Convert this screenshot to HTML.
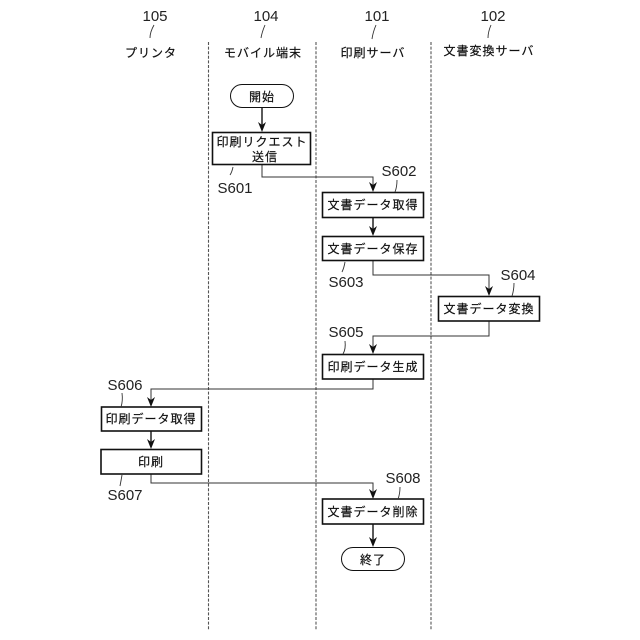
<!DOCTYPE html>
<html>
<head>
<meta charset="utf-8">
<style>
html,body{margin:0;padding:0;background:#fff;}
svg{display:block;}
text{font-family:"Liberation Sans","Noto Sans CJK JP",sans-serif;fill:#111;}
.j{font-size:12px;text-anchor:middle;letter-spacing:1px;stroke:#111;stroke-width:0.2px;}
.n{font-size:15px;text-anchor:middle;fill:#222;}
.box{fill:#fff;stroke:#111;stroke-width:1.6;}
.line{fill:none;stroke:#333;stroke-width:1;}
.vline{fill:none;stroke:#222;stroke-width:1.5;}
.dash{stroke:#555;stroke-width:1.1;stroke-dasharray:3 1.6;}
.lead{fill:none;stroke:#333;stroke-width:0.9;}
</style>
</head>
<body>
<svg width="640" height="640" viewBox="0 0 640 640" xmlns="http://www.w3.org/2000/svg">
<rect width="640" height="640" fill="#fff"/>

<line class="dash" x1="208.5" y1="42" x2="208.5" y2="630"/>
<line class="dash" x1="316" y1="42" x2="316" y2="630"/>
<line class="dash" x1="431" y1="42" x2="431" y2="630"/>

<text class="n" x="155" y="21">105</text>
<text class="n" x="266" y="21">104</text>
<text class="n" x="377" y="21">101</text>
<text class="n" x="493" y="21">102</text>
<path class="lead" d="M154 25 Q150 32 150 38"/>
<path class="lead" d="M265 25 Q262 32 261 38"/>
<path class="lead" d="M376 25 Q373 32 372 39"/>
<path class="lead" d="M491 25 Q488 32 488 38"/>

<text class="j" x="151" y="57">プリンタ</text>
<text class="j" x="263" y="57">モバイル端末</text>
<text class="j" x="373" y="57">印刷サーバ</text>
<text class="j" x="489" y="55">文書変換サーバ</text>

<path class="line" d="M262 165V177H373V186"/>
<path class="line" d="M373 260V275H489V290"/>
<path class="line" d="M489 321V336H373V348"/>
<path class="line" d="M373 379V389H151V401"/>
<path class="line" d="M151 474V483H373V493"/>
<path class="vline" d="M262 108V126"/>
<path class="vline" d="M373 218V230"/>
<path class="vline" d="M151 431V443"/>
<path class="vline" d="M373 524V541"/>

<g fill="#111">
<path d="M262 132L258 122L262 125L266 122Z"/>
<path d="M373 192L369 182L373 185L377 182Z"/>
<path d="M373 236L369 226L373 229L377 226Z"/>
<path d="M489 296L485 286L489 289L493 286Z"/>
<path d="M373 354L369 344L373 347L377 344Z"/>
<path d="M151 407L147 397L151 400L155 397Z"/>
<path d="M151 449L147 439L151 442L155 439Z"/>
<path d="M373 499L369 489L373 492L377 489Z"/>
<path d="M373 547L369 537L373 540L377 537Z"/>
</g>

<rect class="box" x="230.5" y="84.5" width="63" height="23" rx="11.5" style="stroke-width:1"/>
<rect class="box" x="341.5" y="547.5" width="63" height="23" rx="11.5" style="stroke-width:1"/>
<rect class="box" x="212.5" y="132.5" width="98" height="32"/>
<rect class="box" x="322.5" y="192.5" width="101" height="25"/>
<rect class="box" x="322.5" y="236.5" width="101" height="24"/>
<rect class="box" x="438.5" y="296.5" width="101" height="24.5"/>
<rect class="box" x="322.5" y="354.5" width="101" height="24.5"/>
<rect class="box" x="101.5" y="407" width="100" height="24"/>
<rect class="box" x="101" y="449.5" width="100.5" height="24.5"/>
<rect class="box" x="322.5" y="499" width="101" height="25"/>

<text class="j" x="262" y="101">開始</text>
<text class="j" x="262" y="146">印刷リクエスト</text>
<text class="j" x="265" y="161">送信</text>
<text class="j" x="373" y="209">文書データ取得</text>
<text class="j" x="373" y="253">文書データ保存</text>
<text class="j" x="489" y="313">文書データ変換</text>
<text class="j" x="373" y="371">印刷データ生成</text>
<text class="j" x="151" y="423">印刷データ取得</text>
<text class="j" x="151" y="466">印刷</text>
<text class="j" x="373" y="516">文書データ削除</text>
<text class="j" x="373" y="564">終了</text>

<text class="n" x="235" y="193">S601</text>
<text class="n" x="399" y="176">S602</text>
<text class="n" x="346" y="287">S603</text>
<text class="n" x="518" y="280">S604</text>
<text class="n" x="346" y="337">S605</text>
<text class="n" x="125" y="390">S606</text>
<text class="n" x="125" y="500">S607</text>
<text class="n" x="403" y="483">S608</text>
<path class="lead" d="M233 167Q232 172 230 175"/>
<path class="lead" d="M397 180Q397 187 395 192"/>
<path class="lead" d="M345 262Q344 268 342 272"/>
<path class="lead" d="M514 283Q514 290 512 296"/>
<path class="lead" d="M345 341Q346 349 343 354"/>
<path class="lead" d="M122 393Q123 401 121 407"/>
<path class="lead" d="M122 475Q121 481 120 486"/>
<path class="lead" d="M400 487Q400 494 398 499"/>
</svg>
</body>
</html>
